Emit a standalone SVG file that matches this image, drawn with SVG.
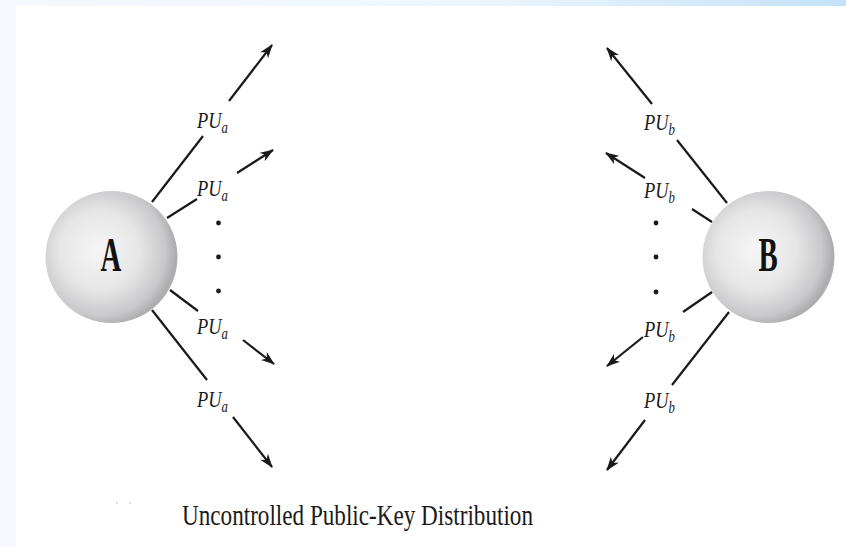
<svg xmlns="http://www.w3.org/2000/svg" width="846" height="547" viewBox="0 0 846 547">
  <defs>
    <linearGradient id="band" x1="0" y1="0" x2="1" y2="0">
      <stop offset="0" stop-color="#f5f9fe"/>
      <stop offset="0.55" stop-color="#eef6fd"/>
      <stop offset="1" stop-color="#c4e2f8"/>
    </linearGradient>
    <radialGradient id="sphere" cx="0.42" cy="0.46" r="0.6" fx="0.4" fy="0.44">
      <stop offset="0" stop-color="#f6f6f6"/>
      <stop offset="0.5" stop-color="#e6e6e7"/>
      <stop offset="0.82" stop-color="#c8c8ca"/>
      <stop offset="0.95" stop-color="#acacae"/>
      <stop offset="1" stop-color="#b4b4b6"/>
    </radialGradient>
    <marker id="head" viewBox="0 0 14 10" refX="13" refY="5" markerWidth="14" markerHeight="10" markerUnits="userSpaceOnUse" orient="auto">
      <path d="M0,0 L14,5 L0,10 L4,5 Z" fill="#1a1a1a"/>
    </marker>
    <style>
      .line { stroke: #1a1a1a; stroke-width: 2.2; fill: none; }
      .arrow { stroke: #1a1a1a; stroke-width: 2.2; fill: none; marker-end: url(#head); }
      .lbl { font-family: "Liberation Serif", "Times New Roman", serif; font-style: italic; font-size: 23px; fill: #1a1a1a; }
      .sub { font-size: 16px; }
      .big { font-family: "Liberation Serif", "Times New Roman", serif; font-weight: bold; font-size: 48px; fill: #111; }
      .title { font-family: "Liberation Serif", "Times New Roman", serif; font-size: 29px; fill: #1a1a1a; }
      .dot { fill: #1a1a1a; }
    </style>
  </defs>

  <!-- page background with tinted top band and left strip -->
  <rect x="0" y="0" width="846" height="547" fill="#ffffff"/>
  <rect x="0" y="0" width="846" height="6" fill="url(#band)"/>
  <rect x="0" y="0" width="16" height="547" fill="#f5f9fe"/>

  <!-- sender A -->
  <g id="nodeA">
    <circle cx="111.5" cy="257" r="66" fill="url(#sphere)"/>
    <text class="big" text-anchor="middle" transform="translate(111,271) scale(0.6,1)">A</text>
  </g>

  <!-- sender B -->
  <g id="nodeB">
    <circle cx="768.5" cy="257" r="66" fill="url(#sphere)"/>
    <text class="big" text-anchor="middle" transform="translate(768,271) scale(0.6,1)">B</text>
  </g>

  <!-- broadcast connectors -->
  <g id="connectors">
    <!-- from A -->
    <line class="line" x1="152" y1="202" x2="203" y2="136"/>
    <line class="arrow" x1="229" y1="101" x2="272" y2="45"/>
    <line class="line" x1="167" y1="218" x2="197" y2="199"/>
    <line class="arrow" x1="237" y1="173" x2="273" y2="150"/>
    <line class="line" x1="170" y1="290" x2="198" y2="311"/>
    <line class="arrow" x1="243" y1="340" x2="274" y2="364"/>
    <line class="line" x1="152" y1="310" x2="207" y2="380"/>
    <line class="arrow" x1="233" y1="417" x2="272" y2="467"/>
    <!-- from B -->
    <line class="line" x1="727" y1="203" x2="677" y2="140"/>
    <line class="arrow" x1="652" y1="104" x2="607" y2="48"/>
    <line class="line" x1="712" y1="222" x2="692" y2="209"/>
    <line class="arrow" x1="645" y1="178" x2="606" y2="153"/>
    <line class="line" x1="712" y1="292" x2="683" y2="312"/>
    <line class="arrow" x1="643" y1="337" x2="607" y2="366"/>
    <line class="line" x1="729" y1="312" x2="672" y2="385"/>
    <line class="arrow" x1="645" y1="420" x2="607" y2="470"/>
  </g>

  <!-- key labels -->
  <g id="labelsA">
    <text class="lbl" transform="translate(197,128) scale(0.8,1)">PU<tspan class="sub" dy="5">a</tspan></text>
    <text class="lbl" transform="translate(197,196) scale(0.8,1)">PU<tspan class="sub" dy="5">a</tspan></text>
    <text class="lbl" transform="translate(197,334) scale(0.8,1)">PU<tspan class="sub" dy="5">a</tspan></text>
    <text class="lbl" transform="translate(197,407) scale(0.8,1)">PU<tspan class="sub" dy="5">a</tspan></text>
  </g>
  <g id="labelsB">
    <text class="lbl" transform="translate(644,130) scale(0.8,1)">PU<tspan class="sub" dy="5">b</tspan></text>
    <text class="lbl" transform="translate(644,198) scale(0.8,1)">PU<tspan class="sub" dy="5">b</tspan></text>
    <text class="lbl" transform="translate(644,337) scale(0.8,1)">PU<tspan class="sub" dy="5">b</tspan></text>
    <text class="lbl" transform="translate(644,408) scale(0.8,1)">PU<tspan class="sub" dy="5">b</tspan></text>
  </g>

  <!-- ellipsis dots -->
  <g id="dotsA">
    <circle class="dot" cx="218.5" cy="223" r="2.4"/>
    <circle class="dot" cx="218.5" cy="257" r="2.4"/>
    <circle class="dot" cx="218.5" cy="291" r="2.4"/>
  </g>
  <g id="dotsB">
    <circle class="dot" cx="656" cy="223" r="2.4"/>
    <circle class="dot" cx="656" cy="257" r="2.4"/>
    <circle class="dot" cx="656" cy="292" r="2.4"/>
  </g>

  <!-- caption -->
  <circle cx="117" cy="503" r="0.8" fill="#b0b0b0"/>
  <circle cx="130" cy="503" r="0.8" fill="#b0b0b0"/>
  <text class="title" x="182" y="525" textLength="351" lengthAdjust="spacingAndGlyphs">Uncontrolled Public-Key Distribution</text>
</svg>
